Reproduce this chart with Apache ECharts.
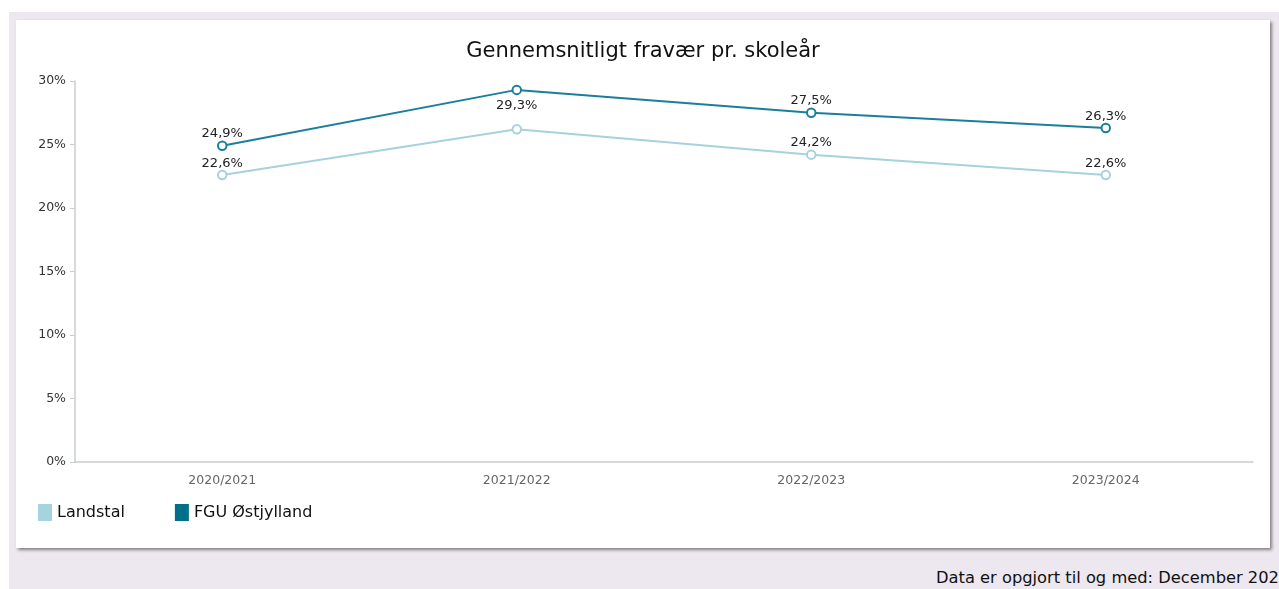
<!DOCTYPE html>
<html>
<head>
<meta charset="utf-8">
<script src="https://cdn.jsdelivr.net/npm/echarts@6/dist/echarts.min.js"></script>
<style>
  html, body { margin: 0; padding: 0; width: 1279px; height: 589px; overflow: hidden; background: #ffffff; }
  #bg { position: absolute; left: 9px; top: 12px; width: 1270px; height: 577px; background: #ede8f0; }
  #card { position: absolute; left: 16px; top: 20px; width: 1254px; height: 528px; background: #ffffff; box-shadow: 2px 2px 3px rgba(0,0,0,0.45); }
  #chart { width: 1254px; height: 528px; }
  #footer { position: absolute; left: 936px; top: 568px; font-family: "DejaVu Sans", Verdana, sans-serif; font-size: 16.3px; color: #111; white-space: nowrap; }
</style>
</head>
<body>
<div id="bg"></div>
<div id="card"><div id="chart"></div></div>
<div id="footer">Data er opgjort til og med: December 2024</div>
<script>
const title = 'Gennemsnitligt fravær pr. skoleår';
const categories = ['2020/2021', '2021/2022', '2022/2023', '2023/2024'];
const landstal = [22.6, 26.2, 24.2, 22.6];
const fgu = [24.9, 29.3, 27.5, 26.3];
const seriesNames = ['Landstal', 'FGU Østjylland'];
const landstalHiddenLabels = [1];
const fguBelowLabels = [1];

const font = '"DejaVu Sans", Verdana, sans-serif';
const fmt = v => String(v.toFixed(1)).replace('.', ',') + '%';

const landColor = '#a6d2df';
const fguColor = '#1a7f9d';

const chart = echarts.init(document.getElementById('chart'), null, { renderer: 'canvas' });
chart.setOption({
  animation: false,
  title: {
    text: title, left: 'center', top: 16,
    textStyle: { fontFamily: font, fontSize: 21, fontWeight: 'normal', color: '#111' }
  },
  legend: {
    left: 22, top: 484, padding: 0, itemWidth: 14, itemHeight: 17, itemGap: 50,
    icon: 'rect',
    textStyle: { fontFamily: font, fontSize: 16, color: '#111' },
    data: [
      { name: seriesNames[0], itemStyle: { color: '#a6d3e0' } },
      { name: seriesNames[1], itemStyle: { color: '#006f8a' } }
    ]
  },
  grid: { left: 59, right: 17, top: 61, bottom: 86, containLabel: false },
  xAxis: {
    type: 'category', data: categories, boundaryGap: true,
    axisLine: { lineStyle: { color: '#c8cdd2', width: 1.5 } },
    axisTick: { alignWithLabel: true, length: 5, lineStyle: { color: '#c8cdd2' } },
    axisLabel: { fontFamily: font, fontSize: 12.5, color: '#666', margin: 12 }
  },
  yAxis: {
    type: 'value', min: 0, max: 30, interval: 5,
    axisLine: { show: true, lineStyle: { color: '#c8cdd2', width: 1.5 } },
    axisTick: { show: true, length: 5, lineStyle: { color: '#c8cdd2' } },
    splitLine: { show: false },
    axisLabel: { fontFamily: font, fontSize: 12.5, color: '#333', margin: 9, formatter: '{value}%' }
  },
  series: [
    {
      name: seriesNames[0], type: 'line', data: landstal.map((v, i) => ({
        value: v,
        label: { show: !landstalHiddenLabels.includes(i) }
      })),
      color: landColor,
      lineStyle: { width: 2, color: landColor },
      symbol: 'emptyCircle', symbolSize: 8.5,
      itemStyle: { color: landColor, borderWidth: 2 },
      label: { show: true, position: 'top', distance: 0, fontFamily: font, fontSize: 13, color: '#222', formatter: p => fmt(p.value) },
      z: 2
    },
    {
      name: seriesNames[1], type: 'line', data: fgu.map((v, i) => ({
        value: v,
        label: { position: fguBelowLabels.includes(i) ? 'bottom' : 'top', distance: fguBelowLabels.includes(i) ? 4 : 0 }
      })),
      color: fguColor,
      lineStyle: { width: 2, color: fguColor },
      symbol: 'emptyCircle', symbolSize: 8.5,
      itemStyle: { color: fguColor, borderWidth: 2 },
      label: { show: true, position: 'top', distance: 0, fontFamily: font, fontSize: 13, color: '#222', formatter: p => fmt(p.value) },
      z: 3
    }
  ]
});
</script>
</body>
</html>
